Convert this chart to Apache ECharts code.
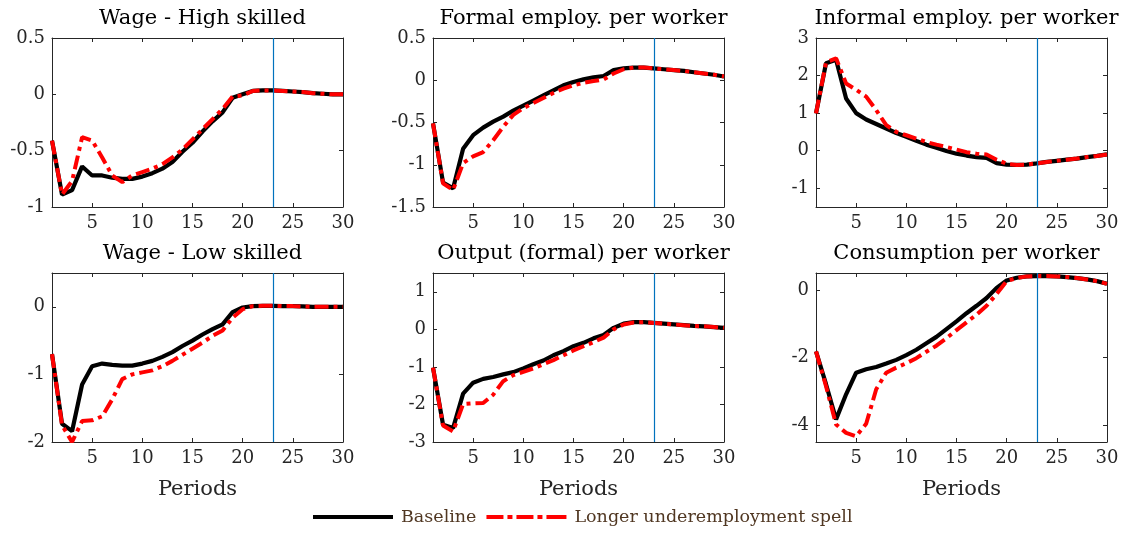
<!DOCTYPE html>
<html>
<head>
<meta charset="utf-8">
<script src="https://cdn.jsdelivr.net/npm/echarts@6/dist/echarts.min.js"></script>
<style>
html,body{margin:0;padding:0;background:#fff;}
#chart{width:1123px;height:533px;}
</style>
</head>
<body>
<div id="chart"></div>
<script>
// ---- Data ----
const periods = [1,2,3,4,5,6,7,8,9,10,11,12,13,14,15,16,17,18,19,20,21,22,23,24,25,26,27,28,29,30];
const xTickValues = [5,10,15,20,25,30];
const markerPeriod = 23;
const seriesNames = ['Baseline','Longer underemployment spell'];

const panelTitles = ['Wage - High skilled','Formal employ. per worker','Informal employ. per worker',
                     'Wage - Low skilled','Output (formal) per worker','Consumption per worker'];

const wageHighBase = [-0.41,-0.89,-0.85,-0.64,-0.72,-0.72,-0.74,-0.75,-0.75,-0.73,-0.70,-0.66,-0.60,-0.51,-0.43,-0.33,-0.24,-0.16,-0.03,0.00,0.03,0.035,0.035,0.03,0.025,0.02,0.01,0.005,0.0,0.0];
const wageHighLong = [-0.41,-0.89,-0.77,-0.38,-0.41,-0.56,-0.72,-0.78,-0.72,-0.69,-0.66,-0.62,-0.56,-0.49,-0.40,-0.31,-0.22,-0.13,-0.02,-0.01,0.03,0.035,0.035,0.03,0.025,0.02,0.01,0.005,0.0,0.0];

const formalBase = [-0.51,-1.21,-1.28,-0.81,-0.65,-0.56,-0.49,-0.43,-0.36,-0.30,-0.24,-0.18,-0.12,-0.06,-0.02,0.01,0.035,0.05,0.12,0.14,0.15,0.15,0.14,0.13,0.12,0.11,0.095,0.08,0.065,0.045];
const formalLong = [-0.51,-1.22,-1.30,-0.98,-0.90,-0.85,-0.71,-0.55,-0.41,-0.33,-0.27,-0.21,-0.15,-0.10,-0.06,-0.03,-0.01,0.01,0.08,0.13,0.15,0.15,0.14,0.13,0.12,0.11,0.095,0.08,0.065,0.045];

const informalBase = [0.99,2.33,2.42,1.39,1.00,0.83,0.71,0.59,0.47,0.37,0.26,0.16,0.08,-0.01,-0.08,-0.13,-0.17,-0.19,-0.33,-0.37,-0.38,-0.37,-0.34,-0.30,-0.27,-0.24,-0.21,-0.17,-0.14,-0.10];
const informalLong = [0.99,2.35,2.46,1.79,1.62,1.44,1.08,0.68,0.50,0.41,0.32,0.23,0.16,0.10,0.03,-0.04,-0.08,-0.10,-0.24,-0.35,-0.38,-0.37,-0.34,-0.30,-0.27,-0.24,-0.21,-0.17,-0.14,-0.10];

const wageLowBase = [-0.70,-1.73,-1.84,-1.15,-0.88,-0.84,-0.86,-0.87,-0.87,-0.84,-0.80,-0.74,-0.67,-0.58,-0.50,-0.41,-0.33,-0.26,-0.08,-0.01,0.01,0.015,0.015,0.01,0.01,0.005,0.0,0.0,0.0,0.0];
const wageLowLong = [-0.70,-1.75,-2.00,-1.69,-1.68,-1.62,-1.37,-1.07,-1.00,-0.97,-0.94,-0.88,-0.80,-0.71,-0.62,-0.53,-0.43,-0.35,-0.16,-0.035,0.01,0.015,0.015,0.01,0.01,0.005,0.0,0.0,0.0,0.0];

const outputBase = [-1.02,-2.54,-2.63,-1.71,-1.42,-1.32,-1.27,-1.20,-1.14,-1.04,-0.93,-0.83,-0.69,-0.58,-0.45,-0.36,-0.24,-0.15,0.04,0.15,0.19,0.19,0.17,0.15,0.13,0.11,0.09,0.08,0.06,0.04];
const outputLong = [-1.02,-2.56,-2.72,-1.99,-1.97,-1.96,-1.74,-1.38,-1.22,-1.13,-1.04,-0.93,-0.82,-0.69,-0.56,-0.45,-0.34,-0.22,0.00,0.13,0.18,0.19,0.17,0.15,0.13,0.11,0.09,0.08,0.06,0.04];

const consBase = [-1.82,-2.79,-3.83,-3.09,-2.45,-2.35,-2.28,-2.18,-2.07,-1.93,-1.77,-1.58,-1.39,-1.16,-0.93,-0.69,-0.47,-0.24,0.06,0.28,0.36,0.40,0.41,0.41,0.40,0.38,0.35,0.31,0.26,0.18];
const consLong = [-1.82,-2.85,-3.98,-4.23,-4.33,-3.96,-2.94,-2.45,-2.30,-2.17,-2.02,-1.83,-1.65,-1.43,-1.19,-0.96,-0.73,-0.47,-0.12,0.26,0.35,0.40,0.41,0.41,0.40,0.38,0.35,0.31,0.26,0.18];

const yMins = [-1,-1.5,-1.5,-2,-3,-4.5];
const yMaxs = [0.5,0.5,3,0.5,1.5,0.5];
const yTicks1 = [-1,-0.5,0,0.5];
const yTicks2 = [-1.5,-1,-0.5,0,0.5];
const yTicks3 = [-1,0,1,2,3];
const yTicks4 = [-2,-1,0];
const yTicks5 = [-3,-2,-1,0,1];
const yTicks6 = [-4,-2,0];

// ---- Build ----
const baseData = [wageHighBase, formalBase, informalBase, wageLowBase, outputBase, consBase];
const longData = [wageHighLong, formalLong, informalLong, wageLowLong, outputLong, consLong];
const yTicks = [yTicks1, yTicks2, yTicks3, yTicks4, yTicks5, yTicks6];

const FONT = 'DejaVu Serif';
const AX = '#262626';
const gridLefts = [52, 433, 816];
const gridW = 291;
const gridTops = [38, 273];
const gridH = 169;

const pairs = arr => periods.map((p, i) => [p, arr[i]]);

const grids = [], xAxes = [], yAxes = [], series = [], titles = [];
for (let i = 0; i < 6; i++) {
  const col = i % 3, row = Math.floor(i / 3);
  grids.push({left: gridLefts[col], top: gridTops[row], width: gridW, height: gridH});
  titles.push({
    text: panelTitles[i],
    left: gridLefts[col] + gridW / 2,
    top: row === 0 ? 3 : 238,
    textAlign: 'center',
    textStyle: {fontFamily: FONT, fontSize: 21, fontWeight: 'normal', color: '#000'}
  });
  const axisLine = {show: true, onZero: false, lineStyle: {color: AX, width: 1}};
  xAxes.push({
    type: 'value', gridIndex: i, min: 1, max: 30, position: 'bottom',
    axisLine: axisLine,
    axisTick: {show: true, inside: true, length: 4, customValues: xTickValues, lineStyle: {color: AX}},
    axisLabel: {show: true, customValues: xTickValues, fontFamily: FONT, fontSize: 18, color: AX, margin: 7},
    splitLine: {show: false},
    name: row === 1 ? 'Periods' : '',
    nameLocation: 'middle', nameGap: 37,
    nameTextStyle: {fontFamily: FONT, fontSize: 21, color: AX}
  });
  xAxes.push({
    type: 'value', gridIndex: i, min: 1, max: 30, position: 'top',
    axisLine: axisLine,
    axisTick: {show: true, inside: true, length: 4, customValues: xTickValues, lineStyle: {color: AX}},
    axisLabel: {show: false}, splitLine: {show: false}
  });
  yAxes.push({
    type: 'value', gridIndex: i, min: yMins[i], max: yMaxs[i], position: 'left',
    axisLine: axisLine,
    axisTick: {show: true, inside: true, length: 4, customValues: yTicks[i], lineStyle: {color: AX}},
    axisLabel: {show: true, customValues: yTicks[i], fontFamily: FONT, fontSize: 18, color: AX, margin: 7,
                formatter: v => String(v)},
    splitLine: {show: false}
  });
  yAxes.push({
    type: 'value', gridIndex: i, min: yMins[i], max: yMaxs[i], position: 'right',
    axisLine: axisLine,
    axisTick: {show: true, inside: true, length: 4, customValues: yTicks[i], lineStyle: {color: AX}},
    axisLabel: {show: false}, splitLine: {show: false}
  });
  const xi = 2 * i, yi = 2 * i;
  series.push({
    type: 'line', xAxisIndex: xi, yAxisIndex: yi, data: [], z: 1, silent: true,
    markLine: {
      silent: true, symbol: ['none', 'none'], animation: false,
      label: {show: false},
      lineStyle: {color: '#0072BD', width: 1.2, type: 'solid'},
      emphasis: {disabled: true},
      data: [{xAxis: markerPeriod}]
    }
  });
  series.push({
    name: seriesNames[0], type: 'line', xAxisIndex: xi, yAxisIndex: yi, z: 2,
    data: pairs(baseData[i]), symbol: 'none', smooth: false,
    lineStyle: {color: '#000000', width: 4.2, type: 'solid'},
    itemStyle: {color: '#000000'}
  });
  series.push({
    name: seriesNames[1], type: 'line', xAxisIndex: xi, yAxisIndex: yi, z: 3,
    data: pairs(longData[i]), symbol: 'none', smooth: false,
    lineStyle: {color: '#ff0000', width: 4, type: [14, 5, 4, 5]},
    itemStyle: {color: '#ff0000'}
  });
}

const chart = echarts.init(document.getElementById('chart'), null, {renderer: 'canvas'});
chart.setOption({
  animation: false,
  backgroundColor: '#ffffff',
  title: titles,
  grid: grids,
  xAxis: xAxes,
  yAxis: yAxes,
  legend: {
    data: [
      {name: seriesNames[0], icon: 'path://M0 0h80v4H0z', itemStyle: {color: '#000000'}},
      {name: seriesNames[1], icon: 'path://M0 0h17v4H0z M21 0h5v4h-5z M30 0h17v4h-17z M51 0h5v4h-5z M60 0h20v4h-20z', itemStyle: {color: '#ff0000'}}
    ],
    left: 313, top: 508, padding: 0,
    itemWidth: 80, itemHeight: 4, itemGap: 10,
    lineStyle: {opacity: 0},
    textStyle: {fontFamily: FONT, fontSize: 17.5, color: '#503722', padding: [0, 0, 0, 3]}
  },
  series: series
});
</script>
</body>
</html>
